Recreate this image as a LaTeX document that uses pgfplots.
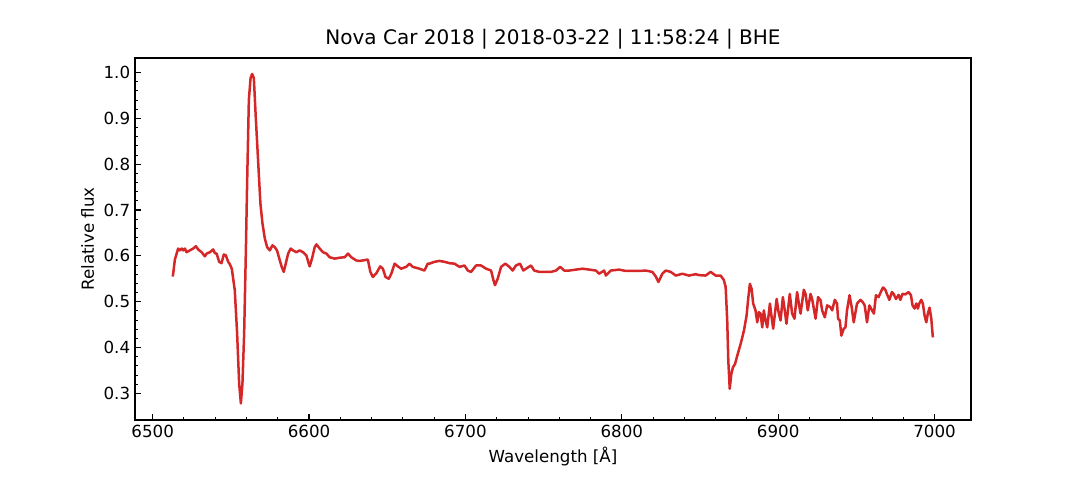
\documentclass[border=0pt]{standalone}
\usepackage{pgfplots}
\pgfplotsset{compat=1.18}
\usepackage{fontspec}
\setmainfont{DejaVu Sans}
\definecolor{tabred}{HTML}{D62728}
\begin{document}
\begin{tikzpicture}[x=1bp,y=1bp]
\path[use as bounding box] (0,0) rectangle (777.6,345.6);
\begin{axis}[
  at={(97.2bp,43.2bp)}, anchor=south west,
  scale only axis, width=601.92bp, height=260.64bp,
  xmin=6488.7, xmax=7023.3, ymin=0.2418, ymax=1.0318,
  axis line style={line width=0.9bp},
  tick align=inside, xtick pos=bottom, ytick pos=left,
  xtick={6500,6600,...,7000}, ytick={0.3,0.4,...,1.0},
  minor x tick num=4, minor y tick num=4,
  major tick length=4.2bp, minor tick length=2.4bp,
  every tick/.style={line width=0.9bp, black},
  every minor tick/.style={line width=0.7bp, black},
  /pgf/number format/assume math mode=true,
  x tick label style={/pgf/number format/1000 sep={}, font=\fontsize{12bp}{14bp}\selectfont},
  y tick label style={/pgf/number format/.cd, fixed, fixed zerofill, precision=1, /tikz/.cd, font=\fontsize{12bp}{14bp}\selectfont},
  xlabel={Wavelength [Å]}, ylabel={Relative flux},
  label style={font=\fontsize{12bp}{14bp}\selectfont},
  title={Nova Car 2018 | 2018-03-22 | 11:58:24 | BHE},
  title style={font=\fontsize{14.4bp}{17bp}\selectfont, yshift=-3bp},
]
\addplot[tabred, line width=1.8bp, line join=round] coordinates {
(6512.8,0.555)(6513.1,0.561)(6514.2,0.592)(6516.3,0.616)(6517.4,0.612)(6518.5,0.616)(6519.5,0.612)(6520.6,0.616)
(6521.7,0.608)(6523.8,0.612)(6525.9,0.616)(6527.6,0.621)(6529.1,0.614)(6531.3,0.608)(6533.4,0.599)(6534.5,0.605)
(6536.6,0.608)(6538.7,0.614)(6539.8,0.606)(6540.9,0.605)(6542.5,0.587)(6544.0,0.584)(6545.5,0.603)(6546.8,0.601)
(6548.3,0.587)(6549.3,0.582)(6550.6,0.572)(6552.5,0.525)(6554.0,0.431)(6555.3,0.321)(6556.4,0.278)(6557.4,0.321)
(6558.5,0.431)(6559.6,0.612)(6560.4,0.759)(6561.5,0.940)(6562.6,0.988)(6563.6,0.997)(6564.7,0.988)(6565.9,0.904)
(6567.4,0.809)(6568.9,0.714)(6570.2,0.671)(6571.7,0.638)(6573.2,0.619)(6574.9,0.612)(6576.6,0.623)(6578.1,0.619)
(6579.5,0.612)(6581.3,0.590)(6582.5,0.576)(6583.8,0.565)(6585.1,0.583)(6586.6,0.605)(6588.3,0.616)(6589.7,0.612)
(6591.9,0.608)(6594.0,0.612)(6596.1,0.608)(6598.3,0.601)(6599.8,0.583)(6600.4,0.577)(6602.1,0.597)(6603.6,0.619)
(6604.7,0.625)(6606.8,0.616)(6608.9,0.608)(6611.1,0.605)(6613.2,0.597)(6616.4,0.594)(6619.6,0.596)(6622.8,0.597)
(6624.9,0.605)(6627.0,0.597)(6630.2,0.590)(6632.3,0.589)(6634.4,0.590)(6637.6,0.592)(6639.2,0.565)(6640.8,0.554)
(6643.0,0.562)(6645.5,0.577)(6647.2,0.572)(6648.9,0.554)(6651.0,0.550)(6652.6,0.561)(6654.7,0.583)(6656.8,0.577)
(6658.9,0.572)(6662.1,0.576)(6664.3,0.583)(6666.3,0.576)(6670.6,0.572)(6673.8,0.568)(6675.9,0.583)(6677.0,0.583)
(6680.2,0.587)(6683.4,0.589)(6686.6,0.587)(6689.8,0.584)(6693.0,0.583)(6696.2,0.576)(6699.4,0.579)(6701.5,0.568)
(6703.6,0.565)(6706.8,0.579)(6710.0,0.579)(6713.2,0.572)(6716.4,0.568)(6717.9,0.547)(6718.9,0.536)(6720.6,0.550)
(6722.8,0.576)(6725.5,0.583)(6728.1,0.576)(6730.2,0.568)(6732.3,0.579)(6734.9,0.583)(6737.0,0.568)(6738.7,0.572)
(6741.9,0.579)(6744.0,0.568)(6747.2,0.565)(6751.5,0.565)(6754.7,0.565)(6757.9,0.568)(6760.6,0.576)(6763.2,0.568)
(6766.4,0.568)(6770.6,0.570)(6774.9,0.572)(6779.2,0.570)(6783.4,0.568)(6785.5,0.561)(6788.7,0.568)(6789.8,0.557)
(6793.0,0.568)(6798.3,0.570)(6802.6,0.567)(6806.8,0.567)(6811.1,0.567)(6815.3,0.568)(6819.5,0.565)(6821.7,0.555)
(6823.4,0.543)(6825.9,0.561)(6828.1,0.568)(6831.3,0.565)(6834.5,0.557)(6838.7,0.561)(6843.0,0.557)(6847.2,0.560)
(6849.4,0.558)(6853.6,0.557)(6856.8,0.565)(6860.0,0.557)(6863.2,0.557)(6865.3,0.547)(6866.4,0.532)(6867.4,0.459)
(6868.1,0.371)(6869.0,0.310)(6870.0,0.342)(6871.1,0.357)(6872.4,0.364)(6873.8,0.382)(6876.0,0.408)(6878.1,0.437)
(6879.8,0.470)(6880.8,0.506)(6881.9,0.539)(6883.0,0.528)(6884.0,0.496)(6885.5,0.481)(6886.6,0.455)(6887.6,0.477)
(6888.7,0.474)(6889.8,0.444)(6890.8,0.481)(6891.9,0.459)(6893.0,0.444)(6894.7,0.496)(6895.8,0.466)(6896.8,0.441)
(6899.0,0.506)(6900.4,0.474)(6901.5,0.459)(6903.0,0.510)(6904.2,0.481)(6905.3,0.452)(6907.4,0.517)(6908.9,0.474)
(6910.4,0.463)(6912.1,0.521)(6913.2,0.496)(6914.3,0.474)(6916.4,0.526)(6917.5,0.517)(6918.9,0.481)(6920.7,0.517)
(6921.7,0.506)(6923.9,0.463)(6925.5,0.510)(6927.1,0.503)(6928.1,0.481)(6929.8,0.466)(6931.3,0.492)(6933.4,0.488)
(6934.5,0.481)(6936.2,0.504)(6937.6,0.496)(6938.3,0.463)(6939.4,0.459)(6940.4,0.426)(6941.9,0.441)(6943.0,0.444)
(6944.0,0.481)(6945.6,0.514)(6947.0,0.488)(6948.3,0.455)(6950.4,0.496)(6952.6,0.504)(6954.1,0.499)(6955.3,0.492)
(6956.8,0.455)(6958.3,0.492)(6960.0,0.481)(6961.2,0.474)(6962.5,0.514)(6964.2,0.510)(6965.3,0.519)(6967.0,0.531)
(6968.5,0.526)(6969.5,0.517)(6971.1,0.504)(6972.7,0.521)(6973.8,0.517)(6975.3,0.506)(6977.0,0.515)(6978.1,0.504)
(6979.5,0.517)(6981.3,0.516)(6983.4,0.521)(6984.9,0.514)(6985.9,0.492)(6987.2,0.485)(6988.3,0.496)(6989.3,0.485)
(6990.2,0.496)(6991.5,0.504)(6992.5,0.496)(6993.6,0.470)(6994.7,0.455)(6995.7,0.474)(6996.8,0.487)(6997.9,0.463)
(6998.9,0.422)
};
\end{axis}
\end{tikzpicture}
\end{document}
